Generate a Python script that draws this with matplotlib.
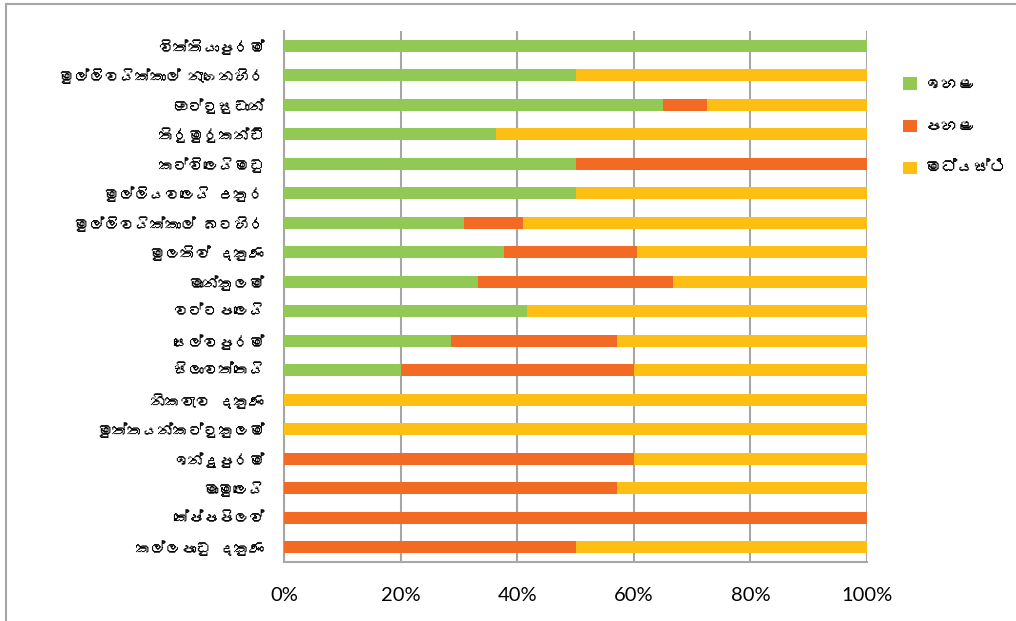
import numpy as np
import matplotlib
matplotlib.use("Agg")
import matplotlib.pyplot as plt
from matplotlib import font_manager
from matplotlib.ft2font import FT2Font
from matplotlib.lines import Line2D

# ---- data (percent per division) ----
divisions = [
    "විත්තියාපුරම්",
    "මුල්ලිවයික්කාල් නැගෙනහිර",
    "ඔට්ටුසුඩාන්",
    "තිරුමුරුකන්ඩි",
    "කට්විලෙයිමඩු",
    "මුල්ලියවලෙයි උතුර",
    "මුල්ලිවයික්කාල් බටහිර",
    "මුලතිව් දකුණ",
    "මාන්කුලම්",
    "වට්ටපලෙයි",
    "සෙල්වපුරම්",
    "සිලාවත්තෙයි",
    "නිකවැව දකුණ",
    "මුත්තයන්කට්ටුකුලම්",
    "ඉන්දුපුරම්",
    "මාමුලෙයි",
    "කේප්පපිලව්",
    "කල්ලපාඩු දකුණ",
]
high = [100, 50, 65, 36.4, 50, 50, 30.8, 37.7, 33.3, 41.7, 28.6, 20, 0, 0, 0, 0, 0, 0]
low = [0, 0, 7.5, 0, 50, 0, 10.2, 22.8, 33.4, 0, 28.5, 40, 0, 0, 60, 57.1, 100, 50]
medium = [0, 50, 27.5, 63.6, 0, 50, 59.0, 39.5, 33.3, 58.3, 42.9, 40, 100, 100, 40, 42.9, 0, 50]
series_names = ["ඉහළ", "පහළ", "මධ්යස්ථ"]
colors = ["#92C955", "#F26A24", "#FDBF14"]

# ---- look for a font that has Sinhala glyphs ----
sinhala_fonts = []
for f in font_manager.fontManager.ttflist:
    try:
        if 0x0DC0 in FT2Font(f.fname).get_charmap() and f.name not in sinhala_fonts:
            sinhala_fonts.append(f.name)
    except Exception:
        pass
plt.rcParams['font.family'] = sinhala_fonts + ["DejaVu Sans"]

fig = plt.figure(figsize=(10.16, 6.21), dpi=100)
ax = fig.add_axes([284 / 1016, 1 - 562 / 621, (867 - 284) / 1016, (562 - 31) / 621])

y = np.arange(len(divisions))
left = np.zeros(len(divisions))
for vals, name, c in zip([high, low, medium], series_names, colors):
    ax.barh(y, vals, left=left, height=0.42, color=c, label=name, zorder=3)
    left = left + np.array(vals)

ax.set_ylim(len(divisions) - 0.5, -0.5)
ax.set_xlim(0, 100)
ax.set_xticks([0, 20, 40, 60, 80, 100])
ax.set_xticklabels([f"{v}%" for v in [0, 20, 40, 60, 80, 100]],
                   family=["Lato", "DejaVu Sans"], fontsize=14.5)
ax.set_yticks(y)
ax.set_yticklabels(divisions, fontsize=11)
ax.tick_params(axis='y', length=0, pad=14)
ax.tick_params(axis='x', length=0, pad=18)
ax.grid(axis='x', color='#A6A6A6', linewidth=1.5, zorder=0)
for s in ['top', 'right']:
    ax.spines[s].set_visible(False)
for s in ['left', 'bottom']:
    ax.spines[s].set_color('#A6A6A6')
    ax.spines[s].set_linewidth(1.5)

fig.legend(loc='upper left', bbox_to_anchor=(895 / 1016, 1 - 69 / 621),
           frameon=False, fontsize=12, handlelength=0.8, handleheight=0.8,
           labelspacing=1.68, handletextpad=0.5, borderpad=0)

# outer chart border
fig.add_artist(Line2D([6 / 1016, 6 / 1016], [0, 1 - 4 / 621], color='#A6A6A6', lw=1.5))
fig.add_artist(Line2D([6 / 1016, 1], [1 - 4 / 621, 1 - 4 / 621], color='#A6A6A6', lw=1.5))

fig.savefig("out.png", dpi=100)
